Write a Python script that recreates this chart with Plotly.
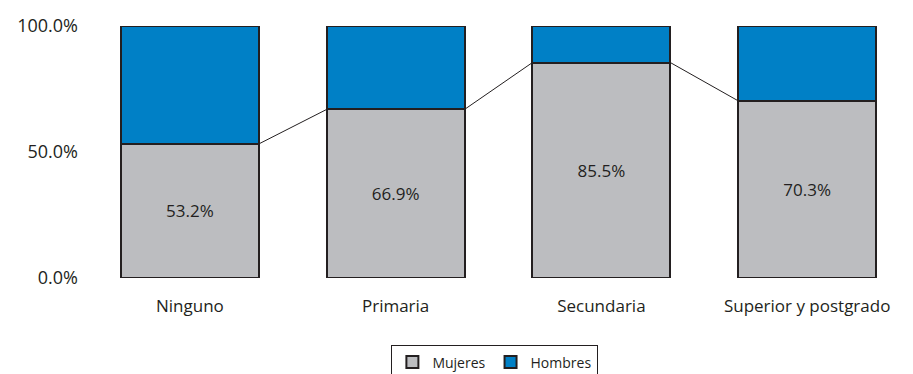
import plotly.graph_objects as go

categories = ["Ninguno", "Primaria", "Secundaria", "Superior y postgrado"]
mujeres = [53.2, 66.9, 85.5, 70.3]
hombres = [46.8, 33.1, 14.5, 29.7]
y_ticks = [0, 50, 100]
y_tick_labels = ["0.0%", "50.0%", "100.0%"]

gray = "#BCBDC0"
blue = "#0080C6"
font_family = "'Open Sans', sans-serif"
bar_w = 0.67
xs = list(range(len(categories)))

fig = go.Figure()
fig.add_trace(go.Bar(
    x=xs, y=mujeres, name="Mujeres", width=bar_w,
    marker=dict(color=gray, line=dict(color="#231F20", width=2)),
    text=[f"{v:.1f}%" for v in mujeres], textposition="inside",
    insidetextanchor="middle", textfont=dict(size=17, color="#231F20", family=font_family),
))
fig.add_trace(go.Bar(
    x=xs, y=hombres, name="Hombres", width=bar_w,
    marker=dict(color=blue, line=dict(color="#231F20", width=2)),
    hoverinfo="skip",
))
# series lines connecting tops of Mujeres segments
for i in range(len(categories) - 1):
    fig.add_trace(go.Scatter(
        x=[xs[i] + bar_w / 2, xs[i + 1] - bar_w / 2],
        y=[mujeres[i], mujeres[i + 1]],
        mode="lines", line=dict(color="#231F20", width=1),
        showlegend=False, hoverinfo="skip",
    ))

fig.update_layout(
    barmode="stack",
    width=905, height=366,
    margin=dict(l=79, r=3, t=18, b=96, autoexpand=False),
    paper_bgcolor="white", plot_bgcolor="white",
    font=dict(family=font_family, color="#231F20"),
    showlegend=True,
    legend=dict(
        orientation="h", xref="container", x=0.538, xanchor="center",
        yref="container", y=0.078, yanchor="top",
        bordercolor="#231F20", borderwidth=1, font=dict(size=14),
        traceorder="normal", itemwidth=30, tracegroupgap=0,
    ),
    xaxis=dict(
        tickmode="array", tickvals=xs, ticktext=categories,
        range=[-0.5, 3.5], showgrid=False, zeroline=False, showline=False,
        ticks="", tickfont=dict(size=17), ticklabelstandoff=16,
    ),
    yaxis=dict(
        tickmode="array", tickvals=y_ticks, ticktext=y_tick_labels,
        range=[0, 100], showgrid=False, zeroline=False, showline=False,
        ticks="", tickfont=dict(size=18), ticklabelstandoff=8,
    ),
)
fig.write_html("out.html")
